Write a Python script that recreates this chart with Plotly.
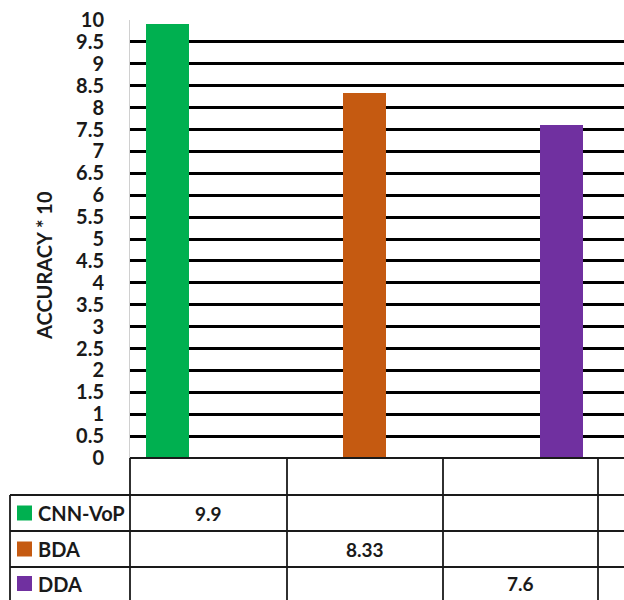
import plotly.graph_objects as go

# ---- data ----
methods = ["CNN-VoP", "BDA", "DDA"]
accuracy = [9.9, 8.33, 7.6]
colors = ["#00B050", "#C55A11", "#7030A0"]
y_ticks = [0, 0.5, 1, 1.5, 2, 2.5, 3, 3.5, 4, 4.5, 5, 5.5, 6, 6.5, 7, 7.5, 8, 8.5, 9, 9.5, 10]
y_title = "ACCURACY * 10"

W, H = 624, 600
FONT = "Lato"
INK = "#1a1a1a"


def fx(px):
    return px / W


def fy(py):
    return 1 - py / H


fig = go.Figure()
for i, (name, val, col) in enumerate(zip(methods, accuracy, colors)):
    fig.add_trace(go.Bar(x=[i], y=[val], name=name, marker=dict(color=col, line=dict(width=0)),
                         width=0.22, showlegend=False))

# plot area geometry (pixels)
plot_left, plot_top, plot_bottom = 130, 20, 458

fig.update_layout(
    width=W, height=H,
    margin=dict(l=0, r=0, t=0, b=0, autoexpand=False),
    paper_bgcolor="white", plot_bgcolor="white",
    bargap=0,
    xaxis=dict(domain=[fx(plot_left), 1], range=[-0.19, 2.317], showticklabels=False,
               showgrid=False, zeroline=False, showline=False, fixedrange=True, automargin=False),
    yaxis=dict(domain=[fy(plot_bottom), fy(plot_top)], range=[0, 10],
               tickvals=y_ticks, ticktext=[f"{t:g}" for t in y_ticks],
               tickfont=dict(family=FONT, size=20, color=INK, weight="bold"),
               ticks="", ticklabelstandoff=21, automargin=False,
               showgrid=True, gridcolor="black", gridwidth=2.8,
               zeroline=False, showline=True, linecolor="#d0d0d0", linewidth=1),
)

# axis title
fig.add_annotation(text=f"<b>{y_title}</b>", x=fx(44), y=fy(266), xref="paper", yref="paper",
                   xanchor="center", yanchor="middle", textangle=-90, showarrow=False,
                   font=dict(family=FONT, size=20, color=INK))

# ---- data table under the plot ----
col_edges = [130, 287, 443, 598]
row_edges = [458, 495, 531, 567]
table_left = 10
line = dict(color=INK, width=1.8)

# top border of table
fig.add_shape(type="line", xref="paper", yref="paper", x0=fx(130), x1=1, y0=fy(458), y1=fy(458), line=line)
# horizontal row separators
for ry in row_edges[1:]:
    fig.add_shape(type="line", xref="paper", yref="paper", x0=fx(table_left), x1=1,
                  y0=fy(ry), y1=fy(ry), line=line)
# vertical column separators
for cx in col_edges:
    fig.add_shape(type="line", xref="paper", yref="paper", x0=fx(cx), x1=fx(cx),
                  y0=fy(458), y1=0, line=line)
fig.add_shape(type="line", xref="paper", yref="paper", x0=fx(table_left), x1=fx(table_left),
              y0=fy(row_edges[1]), y1=0, line=line)

row_centers = [(row_edges[1] + row_edges[2]) / 2, (row_edges[2] + row_edges[3]) / 2, (row_edges[3] + H) / 2]
for i, (name, val, col) in enumerate(zip(methods, accuracy, colors)):
    yc = row_centers[i]
    # legend key
    fig.add_shape(type="rect", xref="paper", yref="paper", x0=fx(17), x1=fx(32),
                  y0=fy(yc + 7.5), y1=fy(yc - 7.5), fillcolor=col, line=dict(width=0))
    fig.add_annotation(text=f"<b>{name}</b>", x=fx(36), y=fy(yc), xref="paper", yref="paper",
                       xanchor="left", yanchor="middle", showarrow=False,
                       font=dict(family=FONT, size=20, color=INK))
    # value cell
    xc = (col_edges[i] + col_edges[i + 1]) / 2
    fig.add_annotation(text=f"<b>{val:g}</b>", x=fx(xc), y=fy(yc), xref="paper", yref="paper",
                       xanchor="center", yanchor="middle", showarrow=False,
                       font=dict(family=FONT, size=19, color=INK))

fig.write_html("out.html")
